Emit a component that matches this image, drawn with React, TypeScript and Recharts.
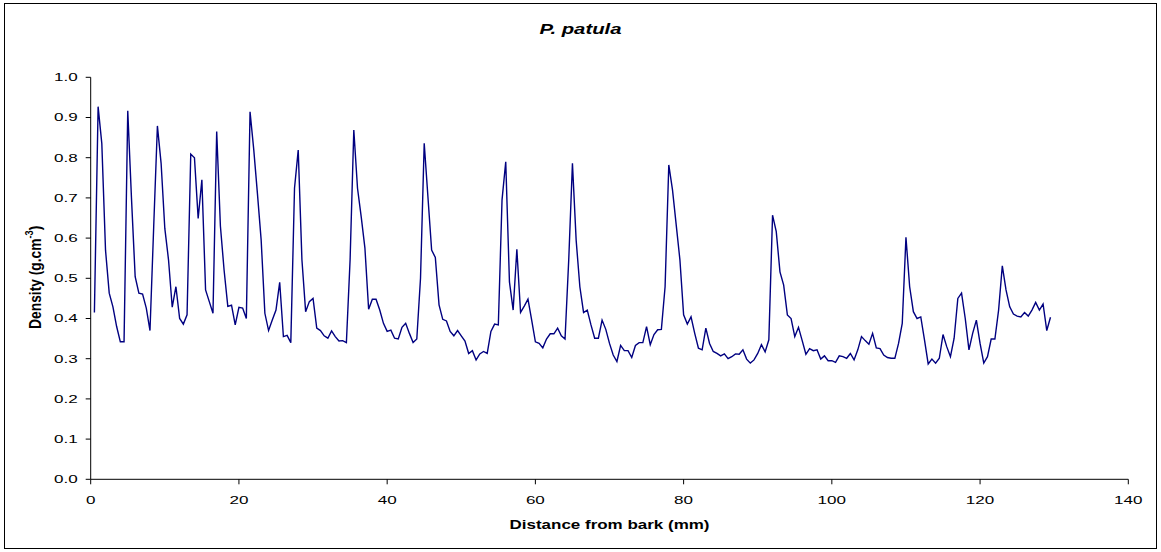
import React from "react";
import { LineChart, Line, XAxis, YAxis, Label } from "recharts";

// distance from bark, mm (one reading every 0.5 mm)
const distance = [
  0.5, 1, 1.5, 2, 2.5, 3, 3.5, 4, 4.5, 5, 5.5, 6, 6.5, 7, 7.5, 8, 8.5, 9, 9.5, 10,
  10.5, 11, 11.5, 12, 12.5, 13, 13.5, 14, 14.5, 15, 15.5, 16, 16.5, 17, 17.5, 18, 18.5, 19, 19.5, 20,
  20.5, 21, 21.5, 22, 22.5, 23, 23.5, 24, 24.5, 25, 25.5, 26, 26.5, 27, 27.5, 28, 28.5, 29, 29.5, 30,
  30.5, 31, 31.5, 32, 32.5, 33, 33.5, 34, 34.5, 35, 35.5, 36, 36.5, 37, 37.5, 38, 38.5, 39, 39.5, 40,
  40.5, 41, 41.5, 42, 42.5, 43, 43.5, 44, 44.5, 45, 45.5, 46, 46.5, 47, 47.5, 48, 48.5, 49, 49.5, 50,
  50.5, 51, 51.5, 52, 52.5, 53, 53.5, 54, 54.5, 55, 55.5, 56, 56.5, 57, 57.5, 58, 58.5, 59, 59.5, 60,
  60.5, 61, 61.5, 62, 62.5, 63, 63.5, 64, 64.5, 65, 65.5, 66, 66.5, 67, 67.5, 68, 68.5, 69, 69.5, 70,
  70.5, 71, 71.5, 72, 72.5, 73, 73.5, 74, 74.5, 75, 75.5, 76, 76.5, 77, 77.5, 78, 78.5, 79, 79.5, 80,
  80.5, 81, 81.5, 82, 82.5, 83, 83.5, 84, 84.5, 85, 85.5, 86, 86.5, 87, 87.5, 88, 88.5, 89, 89.5, 90,
  90.5, 91, 91.5, 92, 92.5, 93, 93.5, 94, 94.5, 95, 95.5, 96, 96.5, 97, 97.5, 98, 98.5, 99, 99.5, 100,
  100.5, 101, 101.5, 102, 102.5, 103, 103.5, 104, 104.5, 105, 105.5, 106, 106.5, 107, 107.5, 108, 108.5, 109, 109.5, 110,
  110.5, 111, 111.5, 112, 112.5, 113, 113.5, 114, 114.5, 115, 115.5, 116, 116.5, 117, 117.5, 118, 118.5, 119, 119.5, 120,
  120.5, 121, 121.5, 122, 122.5, 123, 123.5, 124, 124.5, 125, 125.5, 126, 126.5, 127, 127.5, 128, 128.5, 129, 129.5,
];

// wood density, g/cm3
const density = [
  0.415, 0.927, 0.835, 0.57, 0.463, 0.429, 0.38, 0.342, 0.342, 0.917,
  0.7, 0.504, 0.463, 0.461, 0.426, 0.37, 0.628, 0.879, 0.786, 0.624,
  0.546, 0.428, 0.479, 0.4, 0.386, 0.409, 0.809, 0.8, 0.649, 0.745,
  0.471, 0.442, 0.413, 0.865, 0.63, 0.52, 0.43, 0.433, 0.384, 0.428,
  0.426, 0.4, 0.914, 0.82, 0.71, 0.595, 0.413, 0.37, 0.396, 0.421,
  0.49, 0.355, 0.358, 0.34, 0.724, 0.819, 0.546, 0.417, 0.442, 0.45,
  0.376, 0.37, 0.357, 0.351, 0.369, 0.355, 0.344, 0.345, 0.34, 0.546,
  0.869, 0.724, 0.653, 0.575, 0.423, 0.448, 0.448, 0.421, 0.388, 0.368,
  0.371, 0.351, 0.349, 0.378, 0.388, 0.363, 0.34, 0.349, 0.5, 0.836,
  0.703, 0.57, 0.552, 0.434, 0.398, 0.394, 0.368, 0.357, 0.37, 0.357,
  0.344, 0.313, 0.32, 0.297, 0.312, 0.318, 0.313, 0.368, 0.386, 0.384,
  0.695, 0.79, 0.491, 0.421, 0.572, 0.415, 0.431, 0.448, 0.396, 0.342,
  0.338, 0.327, 0.349, 0.362, 0.362, 0.376, 0.357, 0.349, 0.546, 0.786,
  0.595, 0.479, 0.415, 0.421, 0.384, 0.351, 0.351, 0.396, 0.373, 0.338,
  0.309, 0.293, 0.333, 0.32, 0.32, 0.303, 0.333, 0.34, 0.34, 0.38,
  0.335, 0.36, 0.372, 0.373, 0.479, 0.782, 0.72, 0.633, 0.546, 0.409,
  0.386, 0.404, 0.363, 0.326, 0.322, 0.376, 0.338, 0.318, 0.313, 0.307,
  0.312, 0.3, 0.305, 0.312, 0.311, 0.322, 0.299, 0.289, 0.297, 0.313,
  0.335, 0.317, 0.347, 0.657, 0.616, 0.516, 0.483, 0.409, 0.4, 0.355,
  0.378, 0.345, 0.311, 0.325, 0.32, 0.322, 0.299, 0.307, 0.295, 0.295,
  0.291, 0.307, 0.305, 0.301, 0.313, 0.297, 0.322, 0.355, 0.345, 0.336,
  0.363, 0.327, 0.325, 0.309, 0.303, 0.301, 0.301, 0.338, 0.388, 0.602,
  0.479, 0.417, 0.4, 0.404, 0.347, 0.287, 0.299, 0.289, 0.301, 0.36,
  0.33, 0.305, 0.351, 0.45, 0.463, 0.4, 0.322, 0.363, 0.396, 0.338,
  0.289, 0.305, 0.349, 0.349, 0.421, 0.531, 0.471, 0.429, 0.411, 0.406,
  0.404, 0.415, 0.406, 0.421, 0.44, 0.421, 0.436, 0.37, 0.403,
];

const xTicks = [0, 20, 40, 60, 80, 100, 120, 140];
const yTicks = [0, 0.1, 0.2, 0.3, 0.4, 0.5, 0.6, 0.7, 0.8, 0.9, 1.0];

const data = distance.map((d, i) => ({ distance: d, density: density[i] }));

const FONT = "'Liberation Sans', Arial, sans-serif";
// the original is drawn squashed sideways, so glyphs are widened
const charW = (s: string, size: number) =>
  s.split("").reduce((w, c) => w + (c === "." ? 0.278 : 0.556), 0) * size * 1.55;

const XTick = ({ x, y, payload }: any) => {
  const s = String(payload.value);
  return (
    <text
      x={x}
      y={y}
      dy="0.71em"
      textAnchor="middle"
      fontSize={11}
      fontFamily={FONT}
      fill="#000"
      textLength={charW(s, 11)}
      lengthAdjust="spacingAndGlyphs"
    >
      {s}
    </text>
  );
};

const YTick = ({ x, y, payload }: any) => {
  const s = Number(payload.value).toFixed(1);
  return (
    <text
      x={x}
      y={y}
      dy="0.355em"
      textAnchor="end"
      fontSize={11}
      fontFamily={FONT}
      fill="#000"
      textLength={charW(s, 11)}
      lengthAdjust="spacingAndGlyphs"
    >
      {s}
    </text>
  );
};

const XTitle = ({ viewBox }: any) => {
  const { x, y, width } = viewBox;
  return (
    <text
      x={x + width / 2}
      y={y + 50}
      textAnchor="middle"
      fontSize={12}
      fontWeight="bold"
      fontFamily={FONT}
      fill="#000"
      textLength={200}
      lengthAdjust="spacingAndGlyphs"
    >
      Distance from bark (mm)
    </text>
  );
};

const YTitle = ({ viewBox }: any) => {
  const { x, y, height } = viewBox;
  const cx = x + 4.5;
  const cy = y + height / 2 - 1;
  return (
    <text
      transform={`translate(${cx},${cy}) rotate(-90) scale(1.15,1.4)`}
      textAnchor="middle"
      dy="0.35em"
      fontSize={12}
      fontWeight="bold"
      fontFamily={FONT}
      fill="#000"
    >
      Density (g.cm
      <tspan fontSize={8} dy="-0.7em">-3</tspan>
      <tspan dy="0.45em">)</tspan>
    </text>
  );
};

const App: React.FC = () => {
  return (
    <div
      style={{
        position: "absolute",
        left: 0,
        top: 0,
        width: 1161,
        height: 552,
        background: "#fff",
      }}
    >
      <div
        style={{
          position: "absolute",
          left: 4,
          top: 3,
          width: 1153,
          height: 546,
          border: "1px solid #000",
          boxSizing: "border-box",
        }}
      />
      <div
        style={{
          position: "absolute",
          left: 0,
          top: 20,
          width: 1161,
          textAlign: "center",
          fontFamily: FONT,
          fontWeight: "bold",
          fontStyle: "italic",
          fontSize: 14,
          lineHeight: "18px",
          transform: "scaleX(1.45)",
        }}
      >
        P. patula
      </div>
      <LineChart
        width={1161}
        height={552}
        data={data}
        margin={{ top: 77.3, right: 32.7, bottom: 42.7, left: 30.7 }}
        style={{ position: "absolute", left: 0, top: 0 }}
      >
        <XAxis
          dataKey="distance"
          type="number"
          domain={[0, 140]}
          ticks={xTicks}
          interval={0}
          height={30}
          stroke="#000"
          tickSize={5}
          tickMargin={12}
          tick={<XTick />}
        >
          <Label content={<XTitle />} />
        </XAxis>
        <YAxis
          type="number"
          domain={[0, 1]}
          ticks={yTicks}
          interval={0}
          width={60}
          stroke="#000"
          tickSize={5}
          tickMargin={8}
          tick={<YTick />}
        >
          <Label content={<YTitle />} />
        </YAxis>
        <Line
          type="linear"
          dataKey="density"
          stroke="#000080"
          strokeWidth={1.4}
          dot={false}
          isAnimationActive={false}
        />
      </LineChart>
    </div>
  );
};

export default App;
